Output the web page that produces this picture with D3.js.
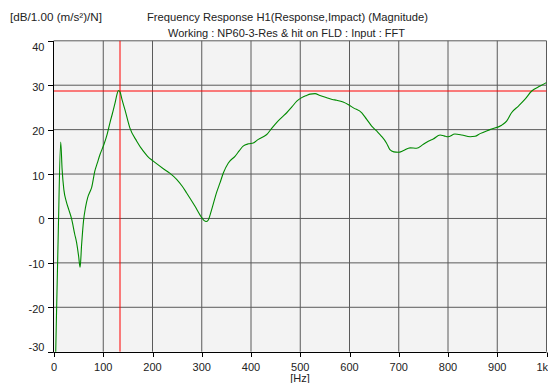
<!DOCTYPE html>
<html><head><meta charset="utf-8">
<script src="https://cdn.jsdelivr.net/npm/d3@7"></script>
<style>body{margin:0;background:#fff}svg{display:block;font-family:"Liberation Sans",Arial,sans-serif}</style>
</head><body><svg id="c" width="548" height="383"></svg>
<script>
const freq = [2,3.5,8.7,13.6,16.5,20,25,30,36,42,46,50,53,56,60,64,68.4,73,76.5,83,88,93.4,101.5,108,113.7,119,124,128,131,134,138,144,154,168,181,190,201.6,222,235,249,260,269,286,300,305,309,313,318,324,330,337,344,354,367.5,376,384,395,404.6,415,425,432,442,452,462,472.5,483,493,503,513,520,530,540,553.7,565,574,587,598,608,625,635,645,655,665,675,682,690,699,710,723,736,750,760,770,784,792,800,814,828,845,855,865,885,909,919,929,943,956,970,987,1000];
const mag = [-38,-30,-3,17.2,11,6.5,3.8,2,-0.2,-3.5,-5.5,-8.5,-11,-6,-0.5,2.5,4.7,6,7,10.7,12.5,14.4,16.7,19,21.6,23.8,26,28,28.8,28.5,26.8,24.5,20.4,17.4,15.2,14,12.9,11.2,10.2,8.8,7.3,5.8,2.8,0.2,-0.5,-0.7,-0.4,1.2,3.5,5.8,8,10.3,12.5,14,15.2,16.3,16.8,17,17.8,18.4,18.9,20.3,21.6,22.7,23.8,25.1,26.4,27.2,27.7,28,28.1,27.7,27.2,26.8,26.6,26.2,25.6,24.9,23.8,22.3,20.8,19.7,18.5,17,15.5,15,14.9,15.3,15.9,15.8,16.7,17.4,17.9,18.8,18.6,18.4,19,18.8,18.4,18.5,19.1,20,21,21.9,23.8,25.3,26.8,28.7,29.8,30.6];
const xTicks = [0,100,200,300,400,500,600,700,800,900,1000];
const xTickLabels = ["0","100","200","300","400","500","600","700","800","900","1k"];
const yTicks = [-30,-20,-10,0,10,20,30,40];
const cursorFreq = 134;
const cursorMag = 28.6;
const title1 = "Frequency Response H1(Response,Impact) (Magnitude)";
const title2 = "Working : NP60-3-Res & hit on FLD : Input : FFT";
const yUnit = "[dB/1.00 (m/s²)/N]";
const xUnit = "[Hz]";

const svg = d3.select("#c");
const x = d3.scaleLinear().domain([0,1000]).range([54,546.5]);
const y = d3.scaleLinear().domain([-30,40]).range([351.7,40.8]);

svg.append("defs").append("clipPath").attr("id","pc").append("rect")
  .attr("x",x(0)).attr("y",y(40)).attr("width",x(1000)-x(0)).attr("height",y(-30)-y(40));

svg.append("rect").attr("x",x(0)).attr("y",y(40)).attr("width",x(1000)-x(0)).attr("height",y(-30)-y(40)).attr("fill","#f3f3f3");

const g = svg.append("g");
g.selectAll(".vg").data(xTicks.slice(1)).enter().append("line")
  .attr("x1",d=>x(d)).attr("x2",d=>x(d))
  .attr("y1",y(40)).attr("y2",y(-30)).attr("stroke","#5a5a5a").attr("stroke-width",1);
g.selectAll(".hg").data(yTicks.slice(1)).enter().append("line")
  .attr("y1",d=>y(d)).attr("y2",d=>y(d))
  .attr("x1",x(0)).attr("x2",x(1000)).attr("stroke","#5a5a5a").attr("stroke-width",1);

// cursors
const cx = Math.round(x(cursorFreq)), cy = Math.round(y(cursorMag));
g.append("line").attr("x1",cx).attr("x2",cx).attr("y1",y(40)).attr("y2",y(-30))
  .attr("stroke","#ff0000").attr("stroke-width",1);
g.append("line").attr("y1",cy).attr("y2",cy).attr("x1",x(0)).attr("x2",x(1000))
  .attr("stroke","#ff0000").attr("stroke-width",1);

const line = d3.line().x((d,i)=>x(freq[i])).y((d,i)=>y(mag[i])).curve(d3.curveMonotoneX);
svg.append("path").datum(mag).attr("d",line).attr("clip-path","url(#pc)")
  .attr("fill","none").attr("stroke","#008a00").attr("stroke-width",1.1);

// axes
svg.append("line").attr("x1",53.5).attr("x2",53.5).attr("y1",y(40)).attr("y2",y(-30)+0.5).attr("stroke","#000");
svg.append("line").attr("x1",53.5).attr("x2",x(1000)).attr("y1",352.5).attr("y2",352.5).attr("stroke","#000");
svg.selectAll(".yt").data(yTicks).enter().append("line")
  .attr("x1",48).attr("x2",53.5).attr("y1",d=>Math.round(y(d))+0.5).attr("y2",d=>Math.round(y(d))+0.5).attr("stroke","#000");
svg.selectAll(".xt").data(xTicks).enter().append("line")
  .attr("x1",d=>Math.round(x(d))+0.5).attr("x2",d=>Math.round(x(d))+0.5).attr("y1",352.5).attr("y2",357).attr("stroke","#000");

svg.selectAll(".yl").data(yTicks).enter().append("text")
  .attr("x",44.5).attr("y",(d,i)=>y(d)+ (d===40?10:(d===-30?-1:5.5)))
  .attr("text-anchor","end").attr("font-size",11).attr("fill","#222").text(d=>d);
svg.selectAll(".xl").data(xTicks).enter().append("text")
  .attr("x",(d,i)=>d===1000?548:x(d)).attr("y",371)
  .attr("text-anchor",d=>d===1000?"end":"middle").attr("font-size",11).attr("fill","#222")
  .text((d,i)=>xTickLabels[i]);

svg.append("text").attr("x",300).attr("y",382).attr("text-anchor","middle").attr("font-size",11).attr("fill","#222").text(xUnit);
svg.append("text").attr("x",10).attr("y",21).attr("font-size",11).attr("fill","#222")
  .attr("textLength",92).attr("lengthAdjust","spacingAndGlyphs").text(yUnit);
svg.append("text").attr("x",147).attr("y",21).attr("font-size",11).attr("fill","#222")
  .attr("textLength",281).attr("lengthAdjust","spacingAndGlyphs").text(title1);
svg.append("text").attr("x",168).attr("y",37).attr("font-size",11).attr("fill","#222")
  .attr("textLength",237).attr("lengthAdjust","spacingAndGlyphs").text(title2);
</script></body></html>
